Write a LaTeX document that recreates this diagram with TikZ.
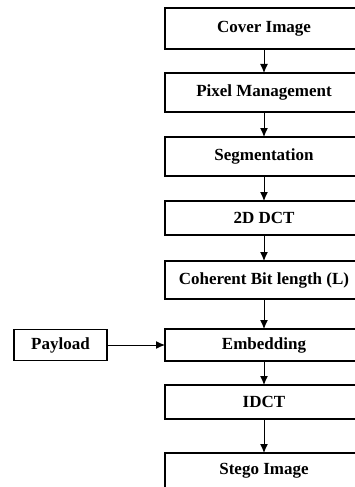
\documentclass[tikz,border=0pt]{standalone}
\usepackage{fontspec}
\setmainfont{Liberation Serif}
\usetikzlibrary{positioning}
\usetikzlibrary{arrows.meta}

\begin{document}
\begin{tikzpicture}[x=1pt, y=1pt, >={Latex[length=9pt,width=8pt]}]
      \tikzset{blk/.style={draw, line width=1.2pt, rectangle, minimum width=198pt, inner sep=0pt, outer sep=0pt, font=\bfseries\fontsize{17}{19}\selectfont},
        flow/.style={->, line width=1pt}}
      \useasboundingbox (0,0) rectangle (355,-487);
      \node[blk, minimum height=41pt, anchor=north west] (cover) at (165,-8) {Cover Image};
      \node[blk, minimum height=39pt, below=24pt of cover] (pixel) {Pixel Management};
      \node[blk, minimum height=39pt, below=25pt of pixel] (segment) {Segmentation};
      \node[blk, minimum height=34pt, below=25pt of segment] (dct) {2D DCT};
      \node[blk, minimum height=38pt, below=26pt of dct] (length) {Coherent Bit length (L)};
      \node[blk, minimum height=32pt, below=30pt of length] (embed) {Embedding};
      \node[blk, minimum height=34pt, below=24pt of embed] (idct) {IDCT};
      \node[blk, minimum height=36pt, below=34pt of idct] (stego) {Stego Image};
      \node[blk, minimum height=31pt, minimum width=93pt, left=58pt of embed] (payload) {Payload};
      \draw[flow] (cover) -- (pixel);
      \draw[flow] (pixel) -- (segment);
      \draw[flow] (segment) -- (dct);
      \draw[flow] (dct) -- (length);
      \draw[flow] (length) -- (embed);
      \draw[flow] (embed) -- (idct);
      \draw[flow] (idct) -- (stego);
      \draw[flow] (payload) -- (embed);
\end{tikzpicture}
\end{document}
